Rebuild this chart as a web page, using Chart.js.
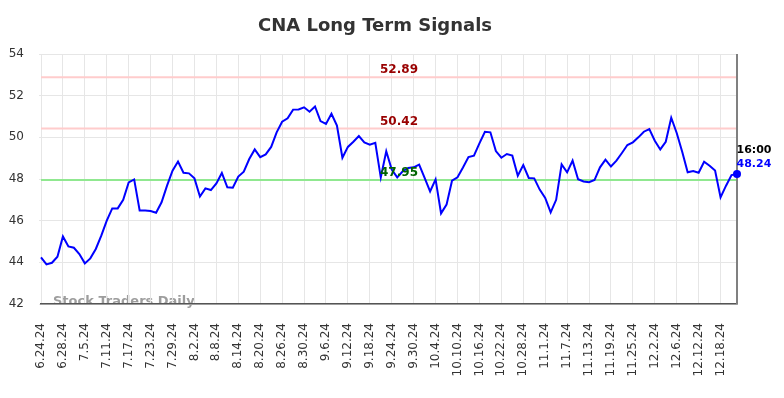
<!DOCTYPE html>
<html>
<head>
<meta charset="utf-8">
<script src="https://cdn.jsdelivr.net/npm/chart.js@4.4.1/dist/chart.umd.min.js"></script>
<style>
html,body{margin:0;padding:0;background:#fff;}
#wrap{width:784px;height:398px;}
</style>
</head>
<body>
<div id="wrap"><canvas id="c" width="784" height="398"></canvas></div>
<script>
const dates = [
"6.24.24","6.25.24","6.26.24","6.27.24","6.28.24","7.1.24","7.2.24","7.3.24","7.5.24","7.8.24",
"7.9.24","7.10.24","7.11.24","7.12.24","7.15.24","7.16.24","7.17.24","7.18.24","7.19.24","7.22.24",
"7.23.24","7.24.24","7.25.24","7.26.24","7.29.24","7.30.24","7.31.24","8.1.24","8.2.24","8.5.24",
"8.6.24","8.7.24","8.8.24","8.9.24","8.12.24","8.13.24","8.14.24","8.15.24","8.16.24","8.19.24",
"8.20.24","8.21.24","8.22.24","8.23.24","8.26.24","8.27.24","8.28.24","8.29.24","8.30.24","9.3.24",
"9.4.24","9.5.24","9.6.24","9.9.24","9.10.24","9.11.24","9.12.24","9.13.24","9.16.24","9.17.24",
"9.18.24","9.19.24","9.20.24","9.23.24","9.24.24","9.25.24","9.26.24","9.27.24","9.30.24","10.1.24",
"10.2.24","10.3.24","10.4.24","10.7.24","10.8.24","10.9.24","10.10.24","10.11.24","10.14.24","10.15.24",
"10.16.24","10.17.24","10.18.24","10.21.24","10.22.24","10.23.24","10.24.24","10.25.24","10.28.24","10.29.24",
"10.30.24","10.31.24","11.1.24","11.4.24","11.5.24","11.6.24","11.7.24","11.8.24","11.11.24","11.12.24",
"11.13.24","11.14.24","11.15.24","11.18.24","11.19.24","11.20.24","11.21.24","11.22.24","11.25.24","11.26.24",
"11.27.24","11.29.24","12.2.24","12.3.24","12.4.24","12.5.24","12.6.24","12.9.24","12.10.24","12.11.24",
"12.12.24","12.13.24","12.16.24","12.17.24","12.18.24","12.19.24","12.20.24","12.23.24"
];
const prices = [
44.24,43.90,43.98,44.27,45.24,44.76,44.70,44.40,43.95,44.19,
44.64,45.28,46.00,46.59,46.59,47.00,47.84,47.98,46.49,46.49,
46.46,46.38,46.88,47.68,48.40,48.84,48.30,48.27,48.03,47.16,
47.55,47.47,47.79,48.29,47.60,47.58,48.12,48.35,48.96,49.42,
49.05,49.18,49.54,50.24,50.75,50.91,51.33,51.34,51.44,51.23,
51.48,50.78,50.64,51.13,50.56,49.02,49.54,49.79,50.06,49.76,
49.65,49.74,48.07,49.33,48.45,48.08,48.37,48.53,48.56,48.69,
48.05,47.40,47.98,46.35,46.77,47.92,48.08,48.55,49.05,49.12,
49.71,50.27,50.24,49.34,49.02,49.20,49.12,48.16,48.67,48.05,
48.03,47.49,47.09,46.40,47.00,48.70,48.32,48.88,47.99,47.88,
47.85,47.95,48.56,48.93,48.60,48.88,49.25,49.63,49.76,50.00,
50.27,50.40,49.84,49.42,49.79,50.94,50.21,49.31,48.32,48.38,
48.30,48.83,48.64,48.41,47.12,47.68,48.19,48.24
];
const tickLabels = [
"6.24.24","6.28.24","7.5.24","7.11.24","7.17.24","7.23.24","7.29.24","8.2.24","8.8.24","8.14.24",
"8.20.24","8.26.24","8.30.24","9.6.24","9.12.24","9.18.24","9.24.24","9.30.24","10.4.24","10.10.24",
"10.16.24","10.22.24","10.28.24","11.1.24","11.7.24","11.13.24","11.19.24","11.25.24","12.2.24","12.6.24",
"12.12.24","12.18.24"
];
const yTicks = [42,44,46,48,50,52,54];
const levelValues = [52.89, 50.42, 47.95];
const levelLineColors = ["#ffcccc", "#ffcccc", "#90e890"];
const levelTextColors = ["#990000", "#990000", "#006400"];
const lastTime = "16:00";
const titleText = "CNA Long Term Signals";
const watermark = "Stock Traders Daily";

const FONT = "'DejaVu Sans', sans-serif";
const lastIdx = prices.length - 1;

const overlay = {
  id: 'overlay',
  beforeDraw(chart) {
    const ctx = chart.ctx;
    ctx.save();
    ctx.fillStyle = '#333333';
    ctx.font = "bold 18px " + FONT;
    ctx.textAlign = 'center';
    ctx.textBaseline = 'middle';
    ctx.fillText(titleText, 375, 26);
    ctx.fillStyle = 'rgba(140,140,140,0.85)';
    ctx.font = "bold 13px " + FONT;
    ctx.textAlign = 'left';
    ctx.fillText(watermark, 53, 302);
    ctx.restore();
  },
  beforeDatasetsDraw(chart) {
    const ctx = chart.ctx, a = chart.chartArea, ys = chart.scales.y, xs = chart.scales.x;
    ctx.save();
    levelValues.forEach((v, k) => {
      const y = ys.getPixelForValue(v);
      ctx.strokeStyle = levelLineColors[k];
      ctx.lineWidth = 2;
      ctx.beginPath();
      ctx.moveTo(a.left, y);
      ctx.lineTo(a.right, y);
      ctx.stroke();
    });
    const xr = xs.getPixelForValue(lastIdx);
    ctx.strokeStyle = '#808080';
    ctx.lineWidth = 2;
    ctx.beginPath();
    ctx.moveTo(xr, a.top);
    ctx.lineTo(xr, a.bottom);
    ctx.stroke();
    ctx.restore();
  },
  afterDatasetsDraw(chart) {
    const ctx = chart.ctx, a = chart.chartArea, ys = chart.scales.y, xs = chart.scales.x;
    ctx.save();
    ctx.font = "bold 12px " + FONT;
    ctx.textAlign = 'center';
    ctx.textBaseline = 'middle';
    const cx = (a.left + a.right) / 2 + 10;
    levelValues.forEach((v, k) => {
      const y = ys.getPixelForValue(v);
      ctx.fillStyle = levelTextColors[k];
      ctx.fillText(v.toFixed(2), cx, y - 7);
    });
    const px = xs.getPixelForValue(lastIdx);
    const py = ys.getPixelForValue(prices[lastIdx]);
    ctx.font = "bold 11px " + FONT;
    ctx.textAlign = 'left';
    ctx.fillStyle = '#000000';
    ctx.fillText(lastTime, px - 0.5, py - 24);
    ctx.fillStyle = '#0000ff';
    ctx.fillText(prices[lastIdx].toFixed(2), px - 0.5, py - 10);
    ctx.restore();
  }
};

new Chart(document.getElementById('c'), {
  type: 'line',
  data: {
    labels: dates,
    datasets: [{
      data: prices,
      borderColor: '#0000ff',
      backgroundColor: '#0000ff',
      borderWidth: 2,
      tension: 0,
      fill: false,
      pointRadius: (c) => c.dataIndex === lastIdx ? 4 : 0,
      pointHoverRadius: 0,
      pointBorderWidth: 0
    }]
  },
  options: {
    responsive: false,
    animation: false,
    events: [],
    layout: { padding: { top: 54, right: 47, left: 0, bottom: 0 } },
    plugins: { legend: { display: false }, title: { display: false }, tooltip: { enabled: false } },
    scales: {
      x: {
        type: 'category',
        offset: false,
        afterFit(s) { s.height = 94; },
        grid: {
          color: (c) => (c.tick && tickLabels.includes(dates[c.index])) ? '#e6e6e6' : 'rgba(0,0,0,0)',
          lineWidth: 1,
          drawTicks: false
        },
        border: { display: true, color: '#555555', width: 1.5 },
        ticks: {
          autoSkip: false,
          minRotation: 90,
          maxRotation: 90,
          padding: 19,
          color: '#333333',
          font: { family: FONT, size: 12 },
          callback: (val, idx) => tickLabels.includes(dates[idx]) ? dates[idx] : ''
        }
      },
      y: {
        min: 42,
        max: 54,
        afterFit(s) { s.width = 41; },
        afterBuildTicks(s) { s.ticks = yTicks.map(v => ({ value: v })); },
        grid: { color: '#e6e6e6', lineWidth: 1, tickLength: 2 },
        border: { display: false },
        ticks: {
          padding: 15,
          color: '#333333',
          font: { family: FONT, size: 12 }
        }
      }
    }
  },
  plugins: [overlay]
});
</script>
</body>
</html>
